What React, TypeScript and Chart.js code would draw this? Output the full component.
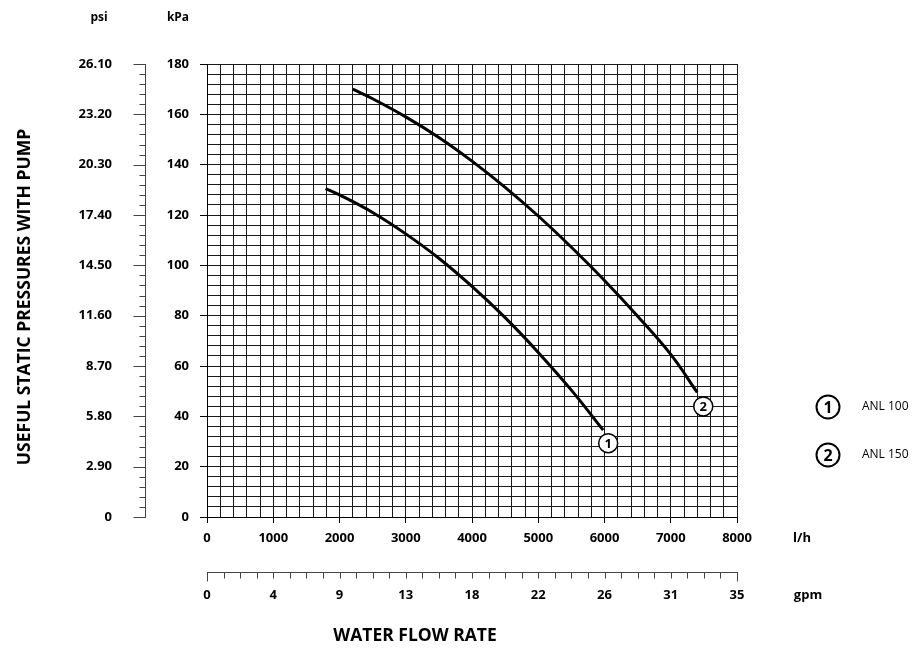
import React, { useEffect, useRef } from 'react';
import { Chart, registerables } from 'chart.js';

Chart.register(...registerables);

// ---- data ----
const anl100Flow = [1790, 2000, 2500, 3000, 3500, 4000, 4500, 5000, 5500, 5980];
const anl100Kpa = [130.5, 128, 121, 112.5, 102.8, 91.6, 79.2, 65.4, 50.4, 34.5];
const anl150Flow = [2200, 2500, 3000, 3500, 4000, 4500, 5000, 5500, 6000, 6500, 7000, 7400];
const anl150Kpa = [170, 166.2, 159, 150.8, 141.4, 131, 119.6, 107.2, 94, 79.8, 64.6, 49.5];
const seriesNames = ['ANL 100', 'ANL 150'];
const seriesMarks = ['1', '2'];
const kpaTicks = [0, 20, 40, 60, 80, 100, 120, 140, 160, 180];
const psiLabels = ['0', '2.90', '5.80', '8.70', '11.60', '14.50', '17.40', '20.30', '23.20', '26.10'];
const lhTicks = [0, 1000, 2000, 3000, 4000, 5000, 6000, 7000, 8000];
const gpmLabels = ['0', '4', '9', '13', '18', '22', '26', '31', '35'];

const FONT = "'Open Sans', 'DejaVu Sans', sans-serif";

function circled(ctx: CanvasRenderingContext2D, cx: number, cy: number, r: number, txt: string, lw: number, size: number) {
  ctx.save();
  ctx.beginPath();
  ctx.arc(cx, cy, r, 0, Math.PI * 2);
  ctx.fillStyle = '#fff';
  ctx.fill();
  ctx.lineWidth = lw;
  ctx.strokeStyle = '#000';
  ctx.stroke();
  ctx.fillStyle = '#000';
  ctx.font = `bold ${size}px ${FONT}`;
  ctx.textAlign = 'center';
  ctx.textBaseline = 'middle';
  ctx.fillText(txt, cx, cy + 1);
  ctx.restore();
}

const overlay = {
  id: 'overlay',
  afterDraw(chart: any) {
    const { ctx } = chart;
    const x = chart.scales.x;
    const y = chart.scales.y;
    ctx.save();
    ctx.fillStyle = '#000';
    ctx.strokeStyle = '#000';
    ctx.font = `bold 12px ${FONT}`;
    ctx.textAlign = 'center';
    ctx.textBaseline = 'middle';
    ctx.fillText('psi', 99, 18);
    ctx.fillText('kPa', 178, 18);

    // psi axis
    const ax = 145.5;
    ctx.strokeStyle = '#444';
    ctx.lineWidth = 1;
    ctx.beginPath();
    ctx.moveTo(ax, Math.round(y.getPixelForValue(180)));
    ctx.lineTo(ax, Math.round(y.getPixelForValue(0)) + 1);
    for (let v = 0; v <= 180; v += 4) {
      const py = Math.round(y.getPixelForValue(v)) + 0.5;
      const major = v % 20 === 0;
      ctx.moveTo(ax - (major ? 12 : 6), py);
      ctx.lineTo(ax, py);
    }
    ctx.stroke();
    ctx.font = `bold 13px ${FONT}`;
    ctx.textAlign = 'right';
    kpaTicks.forEach((v, i) => ctx.fillText(psiLabels[i], 112, y.getPixelForValue(v)));

    // units on x
    ctx.textAlign = 'center';
    ctx.fillText('l/h', 802, 538);

    // gpm axis
    const gy = 572.5;
    ctx.strokeStyle = '#444';
    ctx.beginPath();
    ctx.moveTo(Math.round(x.getPixelForValue(0)), gy);
    ctx.lineTo(Math.round(x.getPixelForValue(8000)) + 1, gy);
    for (let v = 0; v <= 8000; v += 250) {
      const px = Math.round(x.getPixelForValue(v)) + 0.5;
      const end = v === 0 || v === 8000;
      ctx.moveTo(px, gy);
      ctx.lineTo(px, gy + (end ? 9 : 6));
    }
    ctx.stroke();
    lhTicks.forEach((v, i) => ctx.fillText(gpmLabels[i], x.getPixelForValue(v), 595));
    ctx.fillText('gpm', 808, 595);

    // titles
    ctx.font = `bold 17.5px ${FONT}`;
    ctx.fillText('WATER FLOW RATE', 415, 636);
    ctx.save();
    ctx.translate(25, 297);
    ctx.rotate(-Math.PI / 2);
    ctx.fillText('USEFUL STATIC PRESSURES WITH PUMP', 0, 0);
    ctx.restore();

    // curve end markers
    const ends = [
      [anl100Flow[anl100Flow.length - 1], anl100Kpa[anl100Kpa.length - 1], 5, 13],
      [anl150Flow[anl150Flow.length - 1], anl150Kpa[anl150Kpa.length - 1], 6, 14],
    ];
    ends.forEach((e, i) => {
      circled(ctx, x.getPixelForValue(e[0]) + e[2], y.getPixelForValue(e[1]) + e[3], 9.5, seriesMarks[i], 1.5, 13);
    });

    // legend
    seriesNames.forEach((name, i) => {
      const ly = 407 + i * 48;
      circled(ctx, 828, ly, 11.5, seriesMarks[i], 2, 16);
      ctx.fillStyle = '#000';
      ctx.font = `12px ${FONT}`;
      ctx.textAlign = 'left';
      ctx.textBaseline = 'middle';
      ctx.fillText(name, 862, ly);
    });
    ctx.restore();
  },
};

export default function App() {
  const ref = useRef<HTMLCanvasElement | null>(null);
  useEffect(() => {
    if (!ref.current) return;
    const tickFont = { family: FONT, size: 13, weight: 'bold' as const };
    const chart = new Chart(ref.current, {
      type: 'line',
      data: {
        datasets: [
          {
            label: seriesNames[0],
            data: anl100Flow.map((f, i) => ({ x: f, y: anl100Kpa[i] })),
            borderColor: '#000',
            borderWidth: 3,
            pointRadius: 0,
            tension: 0.4,
            fill: false,
          },
          {
            label: seriesNames[1],
            data: anl150Flow.map((f, i) => ({ x: f, y: anl150Kpa[i] })),
            borderColor: '#000',
            borderWidth: 3,
            pointRadius: 0,
            tension: 0.4,
            fill: false,
          },
        ],
      },
      options: {
        responsive: false,
        animation: false,
        layout: { padding: { left: 137, top: 64, right: 185, bottom: 96 } },
        plugins: { legend: { display: false }, tooltip: { enabled: false } },
        scales: {
          x: {
            type: 'linear',
            min: 0,
            max: 8000,
            afterFit: (s: any) => { s.height = 40; },
            ticks: {
              stepSize: 200,
              autoSkip: false,
              maxRotation: 0,
              padding: 7,
              font: tickFont,
              color: '#000',
              callback: (v: any) => (Number(v) % 1000 === 0 ? String(v) : ''),
            },
            grid: {
              color: '#1a1a1a',
              lineWidth: 1,
              tickLength: 6,
              tickColor: (c: any) => (c.tick && c.tick.value % 1000 === 0 ? '#000' : 'rgba(0,0,0,0)'),
            },
            border: { color: '#000', width: 1 },
          },
          y: {
            type: 'linear',
            min: 0,
            max: 180,
            afterFit: (s: any) => { s.width = 70; },
            ticks: {
              stepSize: 4,
              autoSkip: false,
              padding: 11,
              font: tickFont,
              color: '#000',
              callback: (v: any) => (Number(v) % 20 === 0 ? String(v) : ''),
            },
            grid: {
              color: '#1a1a1a',
              lineWidth: 1,
              tickLength: 7,
              tickColor: (c: any) => (c.tick && c.tick.value % 20 === 0 ? '#000' : 'rgba(0,0,0,0)'),
            },
            border: { color: '#000', width: 1 },
          },
        },
      },
      plugins: [overlay],
    });
    return () => chart.destroy();
  }, []);
  return (
    <div style={{ position: 'absolute', left: 0, top: 0, width: 922, height: 653, background: '#fff' }}>
      <canvas ref={ref} width={922} height={653} style={{ display: 'block' }} />
    </div>
  );
}
